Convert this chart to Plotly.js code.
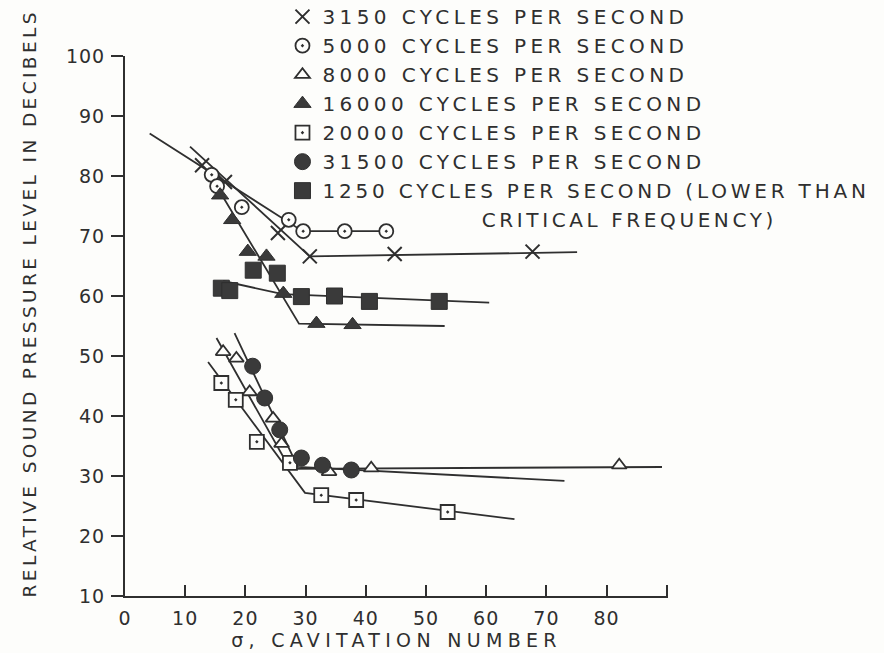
<!DOCTYPE html>
<html>
<head>
<meta charset="utf-8">
<script src="https://cdn.plot.ly/plotly-3.0.1.min.js"></script>
<style>
  html, body { margin: 0; padding: 0; background: #fdfdfb; }
  #chart { width: 884px; height: 653px; }
  .legendtext { letter-spacing: 4.4px; }
  .legend .traces:last-child .legendtext { letter-spacing: 3.8px; }
  .xtitle { letter-spacing: 5.3px; }
  .annotation[data-index="0"] .annotation-text { letter-spacing: 3.6px; }
  .annotation[data-index="1"] .annotation-text { letter-spacing: 3.4px; }
  .xtick text, .ytick text { letter-spacing: 1px; }
</style>
</head>
<body>
<div id="chart"></div>
<script>
// ---- data ----
const seriesNames = [
  "3150 CYCLES PER SECOND",
  "5000 CYCLES PER SECOND",
  "8000 CYCLES PER SECOND",
  "16000 CYCLES PER SECOND",
  "20000 CYCLES PER SECOND",
  "31500 CYCLES PER SECOND",
  "1250 CYCLES PER SECOND (LOWER THAN"
];
const noteText = "CRITICAL FREQUENCY)";
const yTitleText = "RELATIVE SOUND PRESSURE LEVEL IN DECIBELS";
const xTitleText = "σ, CAVITATION NUMBER";

// measured points (sigma, dB)
const x3150 = [12.8, 16.6, 25.4, 30.7, 44.8, 67.7];
const y3150 = [81.8, 79.0, 70.5, 66.6, 67.0, 67.4];
const x5000 = [14.4, 15.3, 19.4, 27.2, 29.6, 36.5, 43.4];
const y5000 = [80.2, 78.3, 74.8, 72.7, 70.8, 70.8, 70.8];
const x8000 = [16.3, 18.5, 20.7, 24.6, 26.0, 33.9, 40.9, 82.1];
const y8000 = [50.7, 49.6, 44.0, 39.6, 35.4, 30.7, 31.3, 31.8];
const x16000 = [15.8, 17.8, 20.4, 23.5, 26.3, 31.8, 37.8];
const y16000 = [76.8, 72.7, 67.4, 66.6, 60.4, 55.4, 55.2];
const x20000 = [16.0, 18.4, 21.9, 27.4, 32.6, 38.4, 53.6];
const y20000 = [45.5, 42.7, 35.7, 32.2, 26.8, 26.0, 24.0];
const x31500 = [21.2, 23.2, 25.7, 29.3, 32.8, 37.6];
const y31500 = [48.3, 43.0, 37.7, 33.0, 31.8, 31.0];
const x1250 = [16.0, 17.4, 21.3, 25.3, 29.3, 34.8, 40.6, 52.2];
const y1250 = [61.3, 60.9, 64.3, 63.8, 59.9, 60.0, 59.1, 59.1];

// faired curves drawn through the points
const fit3150x = [10.8, 30.7, 75.1];  const fit3150y = [84.9, 66.6, 67.3];
const fit5000x = [4.1, 29.5, 43.5];   const fit5000y = [87.1, 70.8, 70.8];
const fit8000x = [15.2, 27.4, 89.2];  const fit8000y = [53.0, 31.2, 31.5];
const fit16000x = [14.5, 28.9, 53.1]; const fit16000y = [79.5, 55.4, 55.0];
const fit20000x = [13.8, 29.9, 64.7]; const fit20000y = [49.0, 27.2, 22.8];
const fit31500x = [18.2, 28.7, 73.0]; const fit31500y = [53.8, 31.5, 29.2];
const fit1250x = [16.3, 26.2, 60.5];  const fit1250y = [62.5, 60.3, 58.9];

const xTickVals = [0, 10, 20, 30, 40, 50, 60, 70, 80, 90];
const xTickText = ["0", "10", "20", "30", "40", "50", "60", "70", "80", ""];
const yTickVals = [10, 20, 30, 40, 50, 60, 70, 80, 90, 100];

// ---- styling ----
const INK = "#2f2f2f";
const FILL = "#3a3a3a";
const PAPER = "#fdfdfb";
const FONT = "DejaVu Sans";

function fitLine(x, y) {
  return { x: x, y: y, mode: "lines", type: "scatter", showlegend: false,
           hoverinfo: "skip", line: { color: INK, width: 1.8 } };
}
function pts(x, y, name, symbol, fill, size, lw) {
  return { x: x, y: y, mode: "markers", type: "scatter", name: name,
           marker: { symbol: symbol, size: size, color: fill,
                     line: { color: INK, width: lw } } };
}

const data = [
  fitLine(fit3150x, fit3150y),
  fitLine(fit5000x, fit5000y),
  fitLine(fit8000x, fit8000y),
  fitLine(fit16000x, fit16000y),
  fitLine(fit20000x, fit20000y),
  fitLine(fit31500x, fit31500y),
  fitLine(fit1250x, fit1250y),
  pts(x3150, y3150, seriesNames[0], "x-thin-open", INK, 14, 2),
  pts(x5000, y5000, seriesNames[1], "circle-dot", PAPER, 14, 1.8),
  pts(x8000, y8000, seriesNames[2], "triangle-up", PAPER, 13, 1.8),
  pts(x16000, y16000, seriesNames[3], "triangle-up", FILL, 15, 1),
  pts(x20000, y20000, seriesNames[4], "square-dot", PAPER, 14, 1.8),
  pts(x31500, y31500, seriesNames[5], "circle", FILL, 16, 1),
  pts(x1250, y1250, seriesNames[6], "square", FILL, 16, 1)
];

const layout = {
  width: 884, height: 653,
  margin: { l: 125, r: 216, t: 56, b: 57, autoexpand: false },
  paper_bgcolor: PAPER, plot_bgcolor: PAPER,
  font: { family: FONT, color: INK },
  showlegend: true,
  legend: { x: 0.29, y: 1.109, xanchor: "left", yanchor: "top",
            bgcolor: "rgba(0,0,0,0)", font: { family: FONT, size: 20, color: INK },
            tracegroupgap: 0, itemclick: false },
  xaxis: {
    range: [0, 90.2], tickmode: "array", tickvals: xTickVals, ticktext: xTickText,
    ticks: "inside", ticklen: 11, tickwidth: 2, tickcolor: INK,
    showline: true, linewidth: 2, linecolor: INK,
    showgrid: false, zeroline: false, ticklabelstandoff: 4,
    tickfont: { family: FONT, size: 19, color: INK },
    title: { text: xTitleText, standoff: 2,
             font: { family: FONT, size: 19, color: INK } }
  },
  yaxis: {
    range: [10, 100], tickmode: "array", tickvals: yTickVals,
    ticks: "outside", ticklen: 12, tickwidth: 2, tickcolor: INK,
    showline: true, linewidth: 2, linecolor: INK,
    showgrid: false, zeroline: false, ticklabelstandoff: 2,
    tickfont: { family: FONT, size: 19, color: INK }
  },
  annotations: [
    { text: noteText, xref: "paper", yref: "paper", x: 0.929, y: 0.696,
      xanchor: "center", yanchor: "middle", showarrow: false,
      font: { family: FONT, size: 20, color: INK } },
    { text: yTitleText, xref: "paper", yref: "paper",
      x: -0.175, y: 0.543, xanchor: "center", yanchor: "middle", textangle: -90,
      showarrow: false, font: { family: FONT, size: 18.5, color: INK } }
  ]
};

Plotly.newPlot("chart", data, layout, { displayModeBar: false, staticPlot: true });
</script>
</body>
</html>
